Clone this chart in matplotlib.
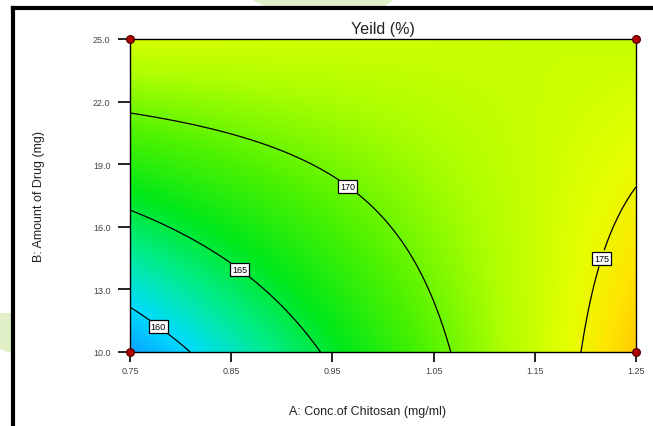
import numpy as np
import matplotlib
matplotlib.use("Agg")
import matplotlib.pyplot as plt
from matplotlib.colors import LinearSegmentedColormap
from matplotlib.patches import Polygon
from matplotlib.lines import Line2D

plt.rcParams['font.family'] = ['Liberation Sans', 'DejaVu Sans']

# Factor ranges (actual units)
conc_range = [0.75, 1.25]      # A: Conc. of Chitosan (mg/ml)
drug_range = [10.0, 25.0]      # B: Amount of Drug (mg)

# Fitted model in coded units: b0, A, B, AB
b0, bA, bB, bAB = 170.43, 4.68, 3.03, -5.03

contour_levels = [160, 165, 170, 175]
label_spots = [(0.782, 11.5), (0.862, 14.2), (0.969, 18.2), (1.212, 14.55)]

x_ticks = [0.75, 0.85, 0.95, 1.05, 1.15, 1.25]
y_ticks = [10.0, 13.0, 16.0, 19.0, 22.0, 25.0]

# design points at the corners
design_A = [0.75, 0.75, 1.25, 1.25]
design_B = [10.0, 25.0, 10.0, 25.0]

# blue -> cyan -> green -> yellow -> orange, like the usual RSM palette
cmap = LinearSegmentedColormap.from_list("rsm", [
    (0.00, (0.05, 0.62, 1.00)),
    (0.12, (0.00, 0.86, 1.00)),
    (0.27, (0.00, 0.93, 0.55)),
    (0.41, (0.00, 0.91, 0.10)),
    (0.56, (0.30, 0.95, 0.00)),
    (0.71, (0.68, 1.00, 0.00)),
    (0.83, (0.90, 1.00, 0.00)),
    (0.90, (1.00, 0.90, 0.00)),
    (1.00, (1.00, 0.72, 0.00)),
])

A = np.linspace(conc_range[0], conc_range[1], 300)
B = np.linspace(drug_range[0], drug_range[1], 300)
AA, BB = np.meshgrid(A, B)
a = (AA - 1.0) / 0.25
b = (BB - 17.5) / 7.5
Y = b0 + bA * a + bB * b + bAB * a * b

fig = plt.figure(figsize=(6.53, 4.27), dpi=100)
ax = fig.add_axes([130 / 653, 74 / 427, 506 / 653, 313 / 427])

ax.imshow(Y, extent=[A[0], A[-1], B[0], B[-1]], origin='lower', aspect='auto',
          cmap=cmap, vmin=157.5, vmax=178.0, interpolation='bilinear')
cs = ax.contour(AA, BB, Y, levels=contour_levels, colors='black', linewidths=0.9)
labels = ax.clabel(cs, fmt='%d', fontsize=6.5, inline=True, inline_spacing=1,
                   manual=label_spots)
for t in labels:
    t.set_rotation(0)
    t.set_bbox(dict(facecolor='white', edgecolor='black', linewidth=0.9,
                    boxstyle='square,pad=0.2'))

ax.plot(design_A, design_B, 'o', color='#b30000', mec='#600000', ms=5.5,
        clip_on=False, zorder=5)

ax.set_xlim(conc_range)
ax.set_ylim(drug_range)
ax.set_xticks(x_ticks)
ax.set_yticks(y_ticks)
ax.set_xticklabels([f"{v:.2f}" for v in x_ticks])
ax.set_yticklabels([f"{v:.1f}" for v in y_ticks])
ax.tick_params(axis='x', direction='out', length=7, width=1.2, pad=3,
               labelsize=6.5, labelcolor='#444444')
ax.tick_params(axis='y', direction='out', length=9, width=1.2, pad=5,
               labelsize=6.5, labelcolor='#444444')
for s in ax.spines.values():
    s.set_linewidth(1.0)

ax.set_title("Yeild (%)", fontsize=11.5, pad=4, color='#222222')
ax.set_xlabel("A: Conc.of Chitosan (mg/ml)", fontsize=9, color='#222222')
ax.xaxis.set_label_coords(0.47, -0.17)
ax.set_ylabel("B: Amount of Drug (mg)", fontsize=9, color='#222222')
ax.yaxis.set_label_coords(-0.167, 0.5)

# faint page decorations around the frame
fig.patches.append(Polygon([(250 / 653, 1), (395 / 653, 1), (385 / 653, 1 - 7 / 427),
                            (265 / 653, 1 - 7 / 427)], closed=True,
                           transform=fig.transFigure, facecolor='#e2f0c8',
                           edgecolor='none', zorder=0))
fig.patches.append(Polygon([(0, 1 - 314 / 427), (11 / 653, 1 - 314 / 427),
                            (11 / 653, 1 - 354 / 427), (0, 1 - 350 / 427)], closed=True,
                           transform=fig.transFigure, facecolor='#e2f0c8',
                           edgecolor='none', zorder=0))

# black frame on the left and top
fig.lines.append(Line2D([13 / 653, 13 / 653], [0, 1 - 9 / 427], transform=fig.transFigure,
                        color='black', linewidth=3.0, solid_capstyle='projecting'))
fig.lines.append(Line2D([13 / 653, 1], [1 - 9 / 427, 1 - 9 / 427], transform=fig.transFigure,
                        color='black', linewidth=3.0, solid_capstyle='projecting'))

fig.savefig("out.png", dpi=100)
